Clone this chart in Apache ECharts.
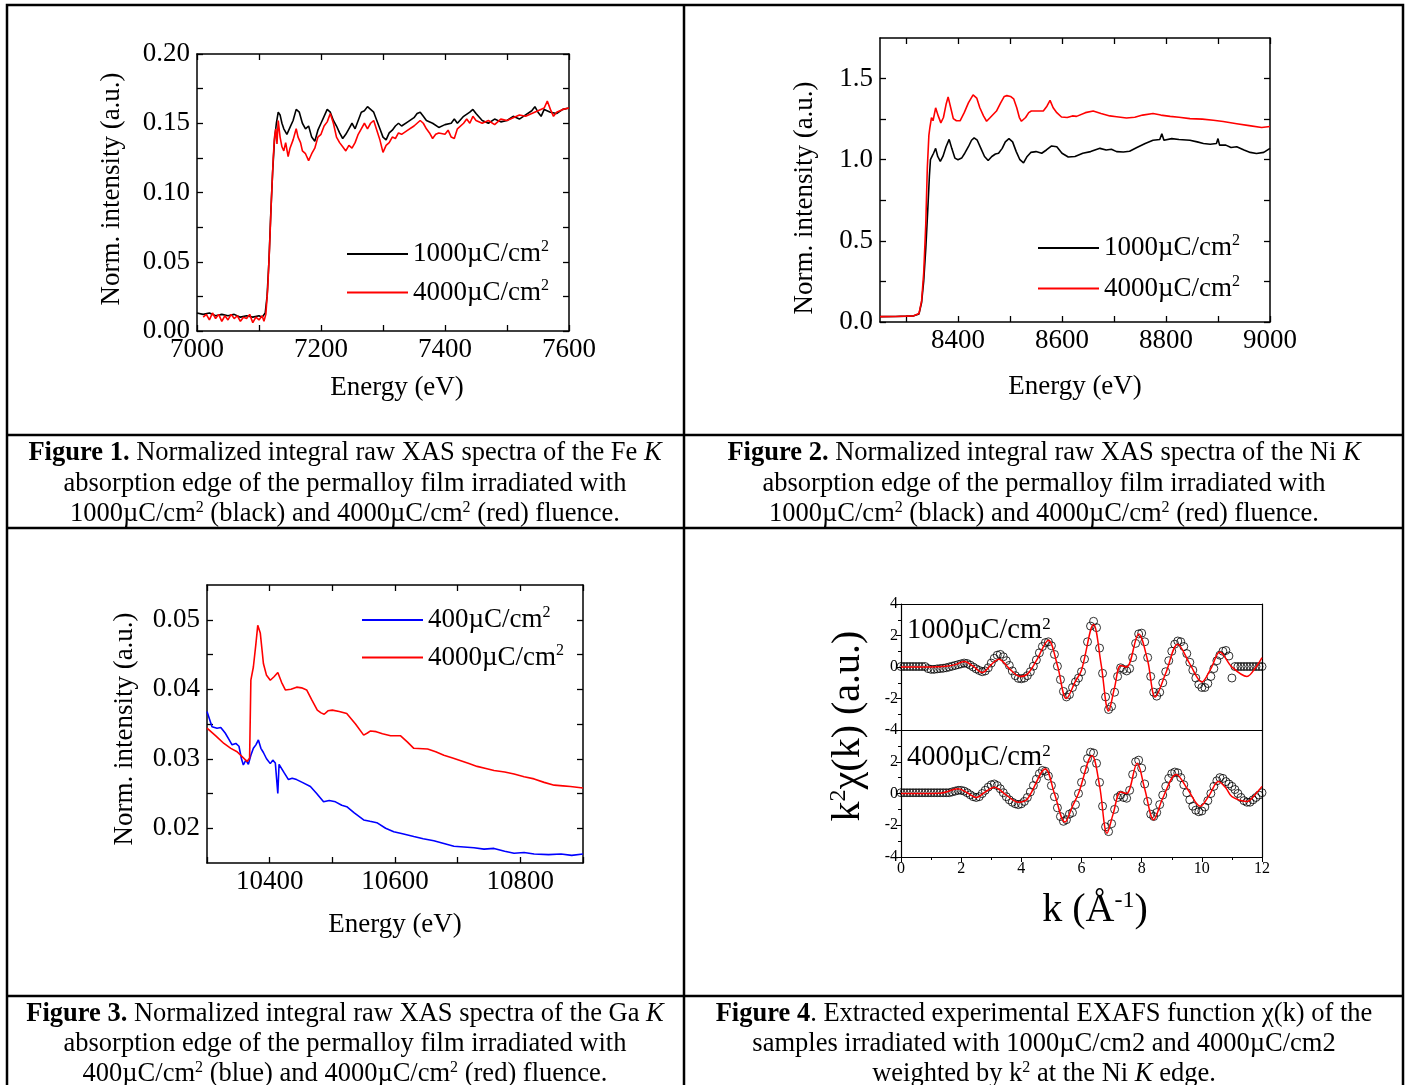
<!DOCTYPE html>
<html>
<head>
<meta charset="UTF-8">
<title>XAS spectra figures</title>
<script src="https://cdn.jsdelivr.net/npm/echarts@6.0.0/dist/echarts.min.js"></script>
<style>
  html, body { margin: 0; padding: 0; background: #fff; }
  #main { width: 1412px; height: 1085px; }
</style>
</head>
<body>
<div id="main"></div>
<script>
// ---- data ----
// Fig 1: Fe K edge, [energy eV, norm. intensity]
var fe1000 = [[7000,0.013],[7010,0.012],[7020,0.013],[7030,0.011],[7040,0.012],[7050,0.011],[7060,0.012],[7070,0.010],[7080,0.011],[7090,0.010],[7100,0.011],[7105,0.010],[7110,0.013],[7113,0.025],[7116,0.050],[7119,0.085],[7122,0.115],[7125,0.138],[7128,0.150],[7131,0.158],[7134,0.156],[7137,0.150],[7140,0.146],[7145,0.142],[7150,0.147],[7155,0.152],[7160,0.160],[7165,0.158],[7170,0.150],[7175,0.146],[7180,0.148],[7185,0.140],[7190,0.137],[7195,0.145],[7200,0.150],[7205,0.155],[7210,0.160],[7215,0.158],[7220,0.152],[7225,0.148],[7230,0.143],[7235,0.139],[7240,0.142],[7245,0.146],[7250,0.150],[7255,0.146],[7260,0.152],[7265,0.158],[7270,0.159],[7275,0.162],[7280,0.160],[7285,0.158],[7290,0.152],[7295,0.146],[7300,0.140],[7305,0.138],[7310,0.143],[7315,0.145],[7320,0.148],[7325,0.150],[7330,0.148],[7340,0.151],[7350,0.154],[7355,0.157],[7360,0.158],[7365,0.155],[7370,0.152],[7380,0.150],[7390,0.147],[7400,0.149],[7410,0.150],[7415,0.153],[7420,0.150],[7430,0.155],[7440,0.158],[7445,0.160],[7450,0.157],[7460,0.152],[7470,0.150],[7480,0.153],[7490,0.151],[7500,0.152],[7510,0.155],[7520,0.153],[7530,0.156],[7540,0.159],[7545,0.162],[7550,0.158],[7555,0.155],[7560,0.160],[7570,0.158],[7580,0.157],[7590,0.160],[7600,0.161]];
var fe4000 = [[7010,0.010],[7015,0.012],[7020,0.008],[7025,0.013],[7030,0.009],[7035,0.012],[7040,0.007],[7045,0.011],[7050,0.008],[7055,0.012],[7060,0.009],[7065,0.011],[7070,0.007],[7075,0.010],[7080,0.009],[7085,0.012],[7090,0.006],[7095,0.010],[7100,0.008],[7105,0.011],[7108,0.007],[7111,0.012],[7114,0.030],[7117,0.060],[7120,0.095],[7123,0.125],[7125,0.140],[7127,0.146],[7129,0.135],[7131,0.152],[7134,0.140],[7137,0.133],[7140,0.130],[7143,0.136],[7147,0.126],[7150,0.132],[7155,0.138],[7160,0.146],[7163,0.140],[7167,0.136],[7170,0.130],[7175,0.128],[7180,0.123],[7185,0.128],[7190,0.132],[7195,0.140],[7200,0.142],[7205,0.148],[7210,0.151],[7215,0.157],[7220,0.150],[7225,0.140],[7230,0.136],[7235,0.133],[7240,0.130],[7245,0.134],[7250,0.132],[7255,0.136],[7260,0.142],[7265,0.146],[7270,0.150],[7275,0.146],[7280,0.150],[7285,0.152],[7290,0.145],[7295,0.138],[7300,0.129],[7305,0.134],[7310,0.136],[7315,0.140],[7320,0.139],[7325,0.143],[7330,0.142],[7340,0.145],[7350,0.148],[7355,0.150],[7360,0.152],[7365,0.150],[7370,0.146],[7375,0.143],[7380,0.139],[7385,0.142],[7390,0.143],[7400,0.142],[7405,0.145],[7410,0.140],[7415,0.139],[7420,0.146],[7430,0.150],[7435,0.153],[7440,0.150],[7445,0.155],[7450,0.152],[7460,0.150],[7470,0.152],[7480,0.149],[7490,0.153],[7500,0.152],[7510,0.154],[7520,0.156],[7530,0.155],[7540,0.157],[7550,0.159],[7560,0.161],[7565,0.166],[7570,0.160],[7575,0.155],[7580,0.158],[7590,0.160],[7600,0.161]];

// Fig 2: Ni K edge
var ni1000 = [[8250,0.033],[8280,0.034],[8300,0.036],[8315,0.038],[8325,0.050],[8330,0.12],[8334,0.25],[8338,0.45],[8342,0.70],[8345,0.90],[8347,1.00],[8350,1.02],[8353,1.04],[8357,1.07],[8361,1.02],[8366,0.99],[8371,1.02],[8377,1.08],[8383,1.125],[8388,1.07],[8394,1.01],[8400,1.00],[8407,1.01],[8413,1.04],[8420,1.08],[8426,1.12],[8431,1.135],[8437,1.12],[8444,1.07],[8451,1.02],[8458,0.995],[8465,1.02],[8472,1.035],[8478,1.04],[8485,1.07],[8491,1.11],[8498,1.13],[8505,1.11],[8512,1.05],[8519,1.00],[8526,0.98],[8533,1.02],[8540,1.045],[8550,1.05],[8561,1.04],[8570,1.06],[8580,1.085],[8590,1.08],[8600,1.04],[8612,1.017],[8625,1.02],[8640,1.04],[8655,1.05],[8673,1.07],[8685,1.06],[8695,1.065],[8705,1.05],[8718,1.048],[8730,1.052],[8744,1.075],[8760,1.10],[8775,1.12],[8788,1.125],[8792,1.16],[8796,1.12],[8811,1.13],[8825,1.125],[8846,1.12],[8860,1.11],[8872,1.10],[8885,1.095],[8897,1.10],[8900,1.13],[8903,1.09],[8915,1.09],[8925,1.075],[8936,1.08],[8950,1.06],[8962,1.045],[8974,1.038],[8988,1.045],[9000,1.07]];
var ni4000 = [[8250,0.033],[8280,0.034],[8300,0.036],[8315,0.038],[8325,0.052],[8330,0.13],[8334,0.30],[8338,0.60],[8341,0.95],[8344,1.15],[8346,1.20],[8349,1.26],[8352,1.24],[8357,1.32],[8362,1.27],[8367,1.227],[8372,1.26],[8377,1.34],[8381,1.387],[8386,1.32],[8391,1.253],[8397,1.24],[8404,1.24],[8412,1.29],[8420,1.35],[8429,1.40],[8436,1.38],[8442,1.32],[8449,1.27],[8455,1.237],[8462,1.26],[8468,1.28],[8474,1.30],[8482,1.35],[8489,1.39],[8494,1.395],[8501,1.39],[8507,1.375],[8513,1.32],[8518,1.26],[8522,1.237],[8530,1.26],[8536,1.29],[8541,1.30],[8552,1.30],[8564,1.30],[8571,1.33],[8577,1.366],[8583,1.32],[8590,1.29],[8599,1.263],[8610,1.26],[8620,1.27],[8628,1.267],[8645,1.29],[8660,1.30],[8675,1.285],[8692,1.27],[8705,1.265],[8724,1.257],[8740,1.262],[8755,1.275],[8775,1.285],[8790,1.275],[8808,1.267],[8825,1.262],[8846,1.253],[8870,1.25],[8891,1.243],[8910,1.235],[8936,1.222],[8960,1.21],[8984,1.198],[9000,1.205]];

// Fig 3: Ga K edge
var ga400 = [[10300,0.0368],[10308,0.0346],[10316,0.0344],[10322,0.0345],[10329,0.0337],[10335,0.0328],[10340,0.0320],[10346,0.0322],[10351,0.0318],[10355,0.0300],[10358,0.0291],[10362,0.0298],[10366,0.0292],[10370,0.0305],[10374,0.0315],[10378,0.0320],[10382,0.0327],[10386,0.0315],[10390,0.0309],[10395,0.0300],[10401,0.0293],[10405,0.0298],[10409,0.0294],[10413,0.0250],[10415,0.0292],[10417,0.0290],[10423,0.0280],[10430,0.0270],[10436,0.0272],[10443,0.0270],[10452,0.0266],[10465,0.0260],[10475,0.0250],[10486,0.0238],[10495,0.0240],[10505,0.0238],[10515,0.0233],[10523,0.0231],[10535,0.0222],[10550,0.0212],[10560,0.0210],[10571,0.0208],[10585,0.0200],[10598,0.0195],[10612,0.0192],[10630,0.0188],[10645,0.0185],[10662,0.0182],[10678,0.0178],[10694,0.0174],[10710,0.0173],[10726,0.0172],[10742,0.0170],[10758,0.0171],[10775,0.0167],[10790,0.0164],[10806,0.0165],[10822,0.0163],[10845,0.0162],[10865,0.0163],[10882,0.0161],[10900,0.0163]];
var ga4000 = [[10300,0.0344],[10314,0.0333],[10327,0.0322],[10338,0.0315],[10348,0.0310],[10356,0.0303],[10364,0.0296],[10368,0.0301],[10370,0.0413],[10374,0.0432],[10378,0.0465],[10381,0.0492],[10385,0.0481],[10388,0.0455],[10390,0.0437],[10395,0.0420],[10401,0.0413],[10407,0.0418],[10413,0.0424],[10419,0.0410],[10425,0.0399],[10434,0.0400],[10443,0.0403],[10451,0.0402],[10459,0.0399],[10467,0.0385],[10476,0.0370],[10482,0.0366],[10487,0.0364],[10493,0.0369],[10500,0.0370],[10511,0.0368],[10523,0.0365],[10537,0.0350],[10550,0.0334],[10556,0.0337],[10561,0.0340],[10570,0.0339],[10580,0.0336],[10593,0.0333],[10609,0.0333],[10620,0.0324],[10630,0.0315],[10652,0.0314],[10665,0.0310],[10678,0.0305],[10692,0.0301],[10705,0.0297],[10718,0.0293],[10731,0.0289],[10745,0.0286],[10758,0.0283],[10775,0.0281],[10790,0.0278],[10806,0.0274],[10822,0.0271],[10838,0.0266],[10854,0.0262],[10868,0.0261],[10880,0.0260],[10900,0.0258]];

// Fig 4: k^2 chi(k), experiment (circles) on a k grid, fits as [k, value]
var kGrid = [0.0,0.1,0.2,0.3,0.4,0.5,0.6,0.7,0.8,0.9,1.0,1.1,1.2,1.3,1.4,1.5,1.6,1.7,1.8,1.9,2.0,2.1,2.2,2.3,2.4,2.5,2.6,2.7,2.8,2.9,3.0,3.1,3.2,3.3,3.4,3.5,3.6,3.7,3.8,3.9,4.0,4.1,4.2,4.3,4.4,4.5,4.6,4.7,4.8,4.9,5.0,5.1,5.2,5.3,5.4,5.5,5.6,5.7,5.8,5.9,6.0,6.1,6.2,6.3,6.4,6.5,6.6,6.7,6.8,6.9,7.0,7.1,7.2,7.3,7.4,7.5,7.6,7.7,7.8,7.9,8.0,8.1,8.2,8.3,8.4,8.5,8.6,8.7,8.8,8.9,9.0,9.1,9.2,9.3,9.4,9.5,9.6,9.7,9.8,9.9,10.0,10.1,10.2,10.3,10.4,10.5,10.6,10.7,10.8,10.9,11.0,11.1,11.2,11.3,11.4,11.5,11.6,11.7,11.8,11.9,12.0];
var chi1000Exp = [0.03,0.03,0.03,0.03,0.03,0.03,0.03,0.03,0.03,-0.1,-0.15,-0.15,-0.12,-0.1,-0.08,-0.05,0.0,0.05,0.1,0.15,0.2,0.25,0.22,0.12,0.0,-0.12,-0.22,-0.3,-0.25,-0.05,0.25,0.55,0.75,0.8,0.65,0.4,0.1,-0.25,-0.55,-0.72,-0.75,-0.7,-0.55,-0.3,0.05,0.45,0.9,1.3,1.55,1.6,1.35,0.8,0.05,-0.8,-1.55,-1.9,-1.75,-1.3,-0.95,-0.7,-0.3,0.5,1.6,2.6,2.9,2.5,1.2,-0.4,-1.9,-2.7,-2.5,-1.6,-0.6,-0.05,-0.15,-0.25,-0.1,0.6,1.5,2.1,2.15,1.6,0.6,-0.6,-1.6,-1.85,-1.6,-1.0,-0.3,0.4,1.0,1.45,1.65,1.6,1.3,0.85,0.3,-0.2,-0.7,-1.1,-1.3,-1.3,-1.05,-0.6,-0.1,0.4,0.75,1.0,1.05,0.7,-0.7,0.03,0.03,0.03,0.03,0.03,0.03,0.03,0.03,0.03,0.03];
var chi4000Exp = [0.05,0.05,0.05,0.05,0.05,0.05,0.05,0.05,0.05,0.05,0.05,0.05,0.05,0.05,0.05,0.05,0.05,0.1,0.15,0.2,0.2,0.15,0.05,-0.08,-0.2,-0.25,-0.2,0.0,0.2,0.4,0.55,0.6,0.5,0.3,0.05,-0.2,-0.4,-0.55,-0.65,-0.7,-0.65,-0.5,-0.25,0.1,0.5,0.9,1.25,1.45,1.4,1.1,0.5,-0.2,-0.9,-1.45,-1.75,-1.65,-1.3,-1.2,-0.7,0.0,0.7,1.5,2.2,2.6,2.55,1.9,0.7,-0.8,-2.1,-2.4,-1.9,-1.0,-0.25,-0.1,-0.25,-0.3,0.2,1.2,2.0,2.1,1.6,0.6,-0.5,-1.3,-1.45,-1.2,-0.7,-0.1,0.45,0.95,1.25,1.35,1.3,1.0,0.55,0.05,-0.4,-0.8,-1.05,-1.15,-1.1,-0.85,-0.45,0.0,0.45,0.8,1.0,0.95,0.75,0.6,0.45,0.25,0.0,-0.25,-0.45,-0.55,-0.55,-0.4,-0.25,-0.1,0.05];
var chi1000Fit = [[0,0],[1.0,0],[1.5,0.05],[1.8,0.15],[2.1,0.35],[2.4,0.05],[2.7,-0.35],[3.0,0.15],[3.25,0.5],[3.6,-0.1],[3.95,-0.6],[4.2,-0.45],[4.5,0.4],[4.9,1.7],[5.2,0.1],[5.5,-2.0],[5.8,-0.9],[6.0,-0.2],[6.4,2.7],[6.65,0.2],[6.9,-2.8],[7.1,-1.3],[7.3,0.1],[7.5,0.0],[7.9,2.1],[8.2,0.4],[8.45,-1.9],[8.8,-0.4],[9.2,1.45],[9.6,0.2],[10.0,-0.95],[10.3,-0.1],[10.6,0.95],[11.0,0.0],[11.5,-0.6],[11.8,0.0],[12.0,0.6]];
var chi4000Fit = [[0,0],[1.3,0.02],[1.9,0.3],[2.2,0.05],[2.5,-0.25],[2.8,0.1],[3.1,0.4],[3.5,-0.1],[3.9,-0.55],[4.2,-0.35],[4.8,1.55],[5.1,0.0],[5.45,-1.8],[5.7,-0.8],[5.9,0.0],[6.35,2.4],[6.6,0.5],[6.85,-2.5],[7.05,-1.3],[7.3,0.1],[7.5,0.0],[7.85,1.9],[8.1,0.3],[8.4,-1.65],[8.7,-0.3],[9.15,1.2],[9.55,0.2],[9.95,-0.8],[10.25,-0.1],[10.55,0.75],[10.8,0.35],[11.0,-0.2],[11.5,-0.5],[11.8,0.0],[12.0,0.45]];

// tick positions and labelled ticks
var feXTicks = [7000,7100,7200,7300,7400,7500,7600];
var feXLabels = [7000,7200,7400,7600];
var feYTicks = [0,0.025,0.05,0.075,0.1,0.125,0.15,0.175,0.2];
var feYLabels = [0,0.05,0.1,0.15,0.2];
var niXTicks = [8300,8400,8500,8600,8700,8800,8900,9000];
var niXLabels = [8400,8600,8800,9000];
var niYTicks = [0,0.25,0.5,0.75,1.0,1.25,1.5];
var niYLabels = [0,0.5,1.0,1.5];
var gaXTicks = [10300,10400,10500,10600,10700,10800,10900];
var gaXLabels = [10400,10600,10800];
var gaYTicks = [0.02,0.025,0.03,0.035,0.04,0.045,0.05];
var gaYLabels = [0.02,0.03,0.04,0.05];

var legendNames = {
  fe1000: '1000µC/cm', fe4000: '4000µC/cm',
  ni1000: '1000µC/cm', ni4000: '4000µC/cm',
  ga400: '400µC/cm', ga4000: '4000µC/cm'
};

var FONT = '"Liberation Serif", "Times New Roman", serif';
var myChart = echarts.init(document.getElementById('main'));

// framed axes: main axis with labels, mirror axis with ticks only
function xAx(grid, min, max, ticks, labels, pos, showLabel) {
  return {
    type: 'value', gridIndex: grid, min: min, max: max, position: pos,
    axisLine: { onZero: false, lineStyle: { color: '#000', width: 1.5 } },
    axisTick: { inside: true, length: 6, customValues: ticks, lineStyle: { color: '#000', width: 1.3 } },
    axisLabel: {
      show: showLabel, customValues: labels, color: '#000', fontFamily: FONT, fontSize: 27, margin: 5,
      formatter: function (v) { return String(v); }
    },
    splitLine: { show: false }
  };
}
function yAx(grid, min, max, ticks, labels, pos, showLabel, digits) {
  return {
    type: 'value', gridIndex: grid, min: min, max: max, position: pos,
    axisLine: { onZero: false, lineStyle: { color: '#000', width: 1.5 } },
    axisTick: { inside: true, length: 6, customValues: ticks, lineStyle: { color: '#000', width: 1.3 } },
    axisLabel: {
      show: showLabel, customValues: labels, color: '#000', fontFamily: FONT, fontSize: 27, margin: 7,
      formatter: function (v) { return v.toFixed(digits); }
    },
    splitLine: { show: false }
  };
}
// Fig 4 axes: outward ticks, labels every 2
function kx(grid) {
  return {
    type: 'value', gridIndex: grid, min: 0, max: 12, interval: 2, position: 'bottom',
    axisLine: { onZero: false, lineStyle: { color: '#000', width: 1.2 } },
    axisTick: { length: 5, lineStyle: { color: '#000' } },
    minorTick: { show: true, splitNumber: 2, length: 3, lineStyle: { color: '#000' } },
    axisLabel: { color: '#000', fontFamily: FONT, fontSize: 16, margin: 4 },
    splitLine: { show: false }
  };
}
function ky(grid, showMax) {
  return {
    type: 'value', gridIndex: grid, min: -4, max: 4, interval: 2,
    axisLine: { onZero: false, lineStyle: { color: '#000', width: 1.2 } },
    axisTick: { length: 5, lineStyle: { color: '#000' } },
    minorTick: { show: true, splitNumber: 2, length: 3, lineStyle: { color: '#000' } },
    axisLabel: { color: '#000', fontFamily: FONT, fontSize: 16, margin: 3, showMaxLabel: showMax },
    splitLine: { show: false }
  };
}
function lineFrame(grid, type, pos) {
  return {
    type: 'value', gridIndex: grid, position: pos,
    min: type === 'x' ? 0 : -4, max: type === 'x' ? 12 : 4,
    axisLine: { onZero: false, lineStyle: { color: '#000', width: 1.2 } },
    axisTick: { show: false }, axisLabel: { show: false }, splitLine: { show: false }
  };
}

var supRich = {
  t: { fontFamily: FONT, fontSize: 27, lineHeight: 30, color: '#000' },
  s: { fontFamily: FONT, fontSize: 16, lineHeight: 14, verticalAlign: 'top', color: '#000' }
};
function legendAt(names, left, top, gap) {
  return {
    data: names, left: left, top: top, orient: 'vertical', selectedMode: false, padding: 0,
    icon: 'rect', itemWidth: 61, itemHeight: 2, itemGap: gap,
    formatter: function (n) { return '{t|' + legendNames[n] + '}{s|2}'; },
    textStyle: { rich: supRich }
  };
}

var CAP = 26.5;
var capRich = {
  b: { fontFamily: FONT, fontSize: CAP, lineHeight: 28, fontWeight: 'bold', color: '#000' },
  i: { fontFamily: FONT, fontSize: CAP, lineHeight: 28, fontStyle: 'italic', color: '#000' },
  s: { fontFamily: FONT, fontSize: 16, lineHeight: 13, verticalAlign: 'top', color: '#000' }
};
function txt(x, y, text, size, opt) {
  opt = opt || {};
  var rich = opt.rich || capRich;
  return {
    type: 'text', x: x, y: y, rotation: opt.rot || 0, silent: true,
    style: {
      text: text, fontFamily: FONT, fontSize: size, lineHeight: size + 2, fill: '#000',
      align: opt.align || 'center', verticalAlign: 'middle',
      textAlign: opt.align || 'center', textVerticalAlign: 'middle', rich: rich
    }
  };
}
function bigRich(sup) {
  return {
    s: { fontFamily: FONT, fontSize: sup, lineHeight: Math.round(sup * 0.8), verticalAlign: 'top', color: '#000' }
  };
}
function hline(x1, x2, y) {
  return { type: 'line', silent: true, shape: { x1: x1, y1: y, x2: x2, y2: y }, style: { stroke: '#000', lineWidth: 2.5 } };
}
function vline(x, y1, y2) {
  return { type: 'line', silent: true, shape: { x1: x, y1: y1, x2: x, y2: y2 }, style: { stroke: '#000', lineWidth: 2.5 } };
}

function lineSeries(name, data, color, ax) {
  return {
    name: name, type: 'line', data: data, xAxisIndex: ax, yAxisIndex: ax,
    showSymbol: false, symbol: 'none', lineStyle: { color: color, width: 1.6 }, itemStyle: { color: color }
  };
}
function expSeries(ax, values) {
  return {
    type: 'scatter', xAxisIndex: ax, yAxisIndex: ax, symbol: 'circle', symbolSize: 8,
    data: kGrid.map(function (k, i) { return [k, values[i]]; }),
    itemStyle: { color: 'rgba(255,255,255,0)', borderColor: '#000', borderWidth: 1 }
  };
}
function fitSeries(ax, data) {
  return {
    type: 'line', xAxisIndex: ax, yAxisIndex: ax, data: data, smooth: 0.35,
    showSymbol: false, symbol: 'none', lineStyle: { color: '#ff0000', width: 1.5 }, z: 5
  };
}

var option = {
  animation: false,
  backgroundColor: '#fff',
  grid: [
    { left: 197, top: 54, width: 372, height: 277 },
    { left: 880, top: 38, width: 390, height: 284 },
    { left: 207, top: 585, width: 376, height: 278 },
    { left: 901, top: 604, width: 361, height: 126 },
    { left: 901, top: 730, width: 361, height: 127 }
  ],
  xAxis: [
    xAx(0, 7000, 7600, feXTicks, feXLabels, 'bottom', true),
    xAx(0, 7000, 7600, feXTicks, feXLabels, 'top', false),
    xAx(1, 8250, 9000, niXTicks, niXLabels, 'bottom', true),
    xAx(1, 8250, 9000, niXTicks, niXLabels, 'top', false),
    xAx(2, 10300, 10900, gaXTicks, gaXLabels, 'bottom', true),
    xAx(2, 10300, 10900, gaXTicks, gaXLabels, 'top', false),
    lineFrame(3, 'x', 'bottom'),
    lineFrame(3, 'x', 'top'),
    kx(4),
    lineFrame(4, 'x', 'top')
  ],
  yAxis: [
    yAx(0, 0, 0.2, feYTicks, feYLabels, 'left', true, 2),
    yAx(0, 0, 0.2, feYTicks, feYLabels, 'right', false, 2),
    yAx(1, 0, 1.75, niYTicks, niYLabels, 'left', true, 1),
    yAx(1, 0, 1.75, niYTicks, niYLabels, 'right', false, 1),
    yAx(2, 0.015, 0.055, gaYTicks, gaYLabels, 'left', true, 2),
    yAx(2, 0.015, 0.055, gaYTicks, gaYLabels, 'right', false, 2),
    ky(3, true),
    lineFrame(3, 'y', 'right'),
    ky(4, false),
    lineFrame(4, 'y', 'right')
  ],
  legend: [
    legendAt(['fe1000', 'fe4000'], 347, 239, 10),
    legendAt(['ni1000', 'ni4000'], 1038, 233, 12),
    legendAt(['ga400', 'ga4000'], 362, 605, 9)
  ],
  series: [
    lineSeries('fe1000', fe1000, '#000000', 0),
    lineSeries('fe4000', fe4000, '#ff0000', 0),
    lineSeries('ni1000', ni1000, '#000000', 2),
    lineSeries('ni4000', ni4000, '#ff0000', 2),
    lineSeries('ga400', ga400, '#0000ff', 4),
    lineSeries('ga4000', ga4000, '#ff0000', 4),
    expSeries(6, chi1000Exp),
    fitSeries(6, chi1000Fit),
    expSeries(8, chi4000Exp),
    fitSeries(8, chi4000Fit)
  ],
  graphic: [
    // table
    { type: 'rect', silent: true, shape: { x: 7, y: 5, width: 1396, height: 1100 }, style: { fill: 'none', stroke: '#000', lineWidth: 2.5 } },
    vline(684, 5, 1100),
    hline(7, 1403, 435),
    hline(7, 1403, 528),
    hline(7, 1403, 996),
    // axis titles
    txt(112, 189, 'Norm. intensity (a.u.)', 27, { rot: Math.PI / 2 }),
    txt(397, 388, 'Energy (eV)', 27),
    txt(805, 198, 'Norm. intensity (a.u.)', 27, { rot: Math.PI / 2 }),
    txt(1075, 387, 'Energy (eV)', 27),
    txt(125, 729, 'Norm. intensity (a.u.)', 27, { rot: Math.PI / 2 }),
    txt(395, 925, 'Energy (eV)', 27),
    txt(848, 726, 'k{s|2}χ(k) (a.u.)', 40, { rot: Math.PI / 2, rich: bigRich(24) }),
    txt(1095, 910, 'k (Å{s|-1})', 40, { rich: bigRich(24) }),
    txt(907, 631, '1000µC/cm{s|2}', 28.5, { align: 'left', rich: bigRich(17) }),
    txt(907, 758, '4000µC/cm{s|2}', 28.5, { align: 'left', rich: bigRich(17) }),
    // captions
    txt(345, 453, '{b|Figure 1.} Normalized integral raw XAS spectra of the Fe {i|K}', CAP),
    txt(345, 484, 'absorption edge of the permalloy film irradiated with', CAP),
    txt(345, 514, '1000µC/cm{s|2} (black) and 4000µC/cm{s|2} (red) fluence.', CAP),
    txt(1044, 453, '{b|Figure 2.} Normalized integral raw XAS spectra of the Ni {i|K}', CAP),
    txt(1044, 484, 'absorption edge of the permalloy film irradiated with', CAP),
    txt(1044, 514, '1000µC/cm{s|2} (black) and 4000µC/cm{s|2} (red) fluence.', CAP),
    txt(345, 1014, '{b|Figure 3.} Normalized integral raw XAS spectra of the Ga {i|K}', CAP),
    txt(345, 1044, 'absorption edge of the permalloy film irradiated with', CAP),
    txt(345, 1074, '400µC/cm{s|2} (blue) and 4000µC/cm{s|2} (red) fluence.', CAP),
    txt(1044, 1014, '{b|Figure 4}. Extracted experimental EXAFS function χ(k) of the', CAP),
    txt(1044, 1044, 'samples irradiated with 1000µC/cm2 and 4000µC/cm2', CAP),
    txt(1044, 1074, 'weighted by k{s|2} at the Ni {i|K} edge.', CAP)
  ]
};

myChart.setOption(option);
</script>
</body>
</html>
